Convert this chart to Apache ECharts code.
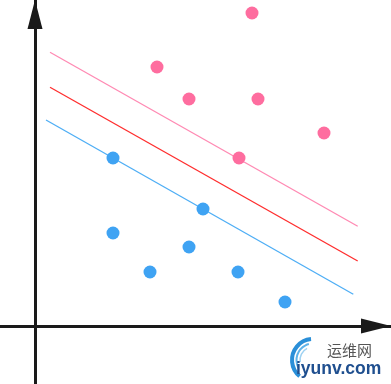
<!DOCTYPE html>
<html><head><meta charset="utf-8">
<script src="https://cdn.jsdelivr.net/npm/echarts@6/dist/echarts.min.js"></script>
<style>html,body{margin:0;padding:0;background:#fff}#c{width:391px;height:384px}</style>
</head><body><div id="c"></div>
<script>
// Class A (pink) and class B (blue) samples
var pinkX = [217, 122, 154, 223, 289, 204];
var pinkY = [313, 259, 227, 227, 193, 168];
var blueX = [78, 168, 78, 154, 115, 203, 250];
var blueY = [168, 117, 93, 79, 54, 54, 24];
// Margin lines (start/end points)
var upperLineX = [15, 322.7], upperLineY = [273.7, 99.7];
var midLineX = [15, 322.7], midLineY = [238.7, 65];
var lowerLineX = [11, 318.3], lowerLineY = [206, 31.7];

function pts(xs, ys){ return xs.map(function(x,i){return [x, ys[i]];}); }

var chart = echarts.init(document.getElementById('c'));
var axisLineCommon = {show:true, onZero:true, lineStyle:{color:'#1a1a1a', width:3}};
chart.setOption({
  animation:false,
  grid:{left:0,right:0,top:0,bottom:0},
  xAxis:{type:'value', min:-35, max:356, splitLine:{show:false}, axisTick:{show:false}, axisLabel:{show:false},
    axisLine:Object.assign({}, axisLineCommon, {symbol:['none','triangle'], symbolSize:[15,30], symbolOffset:[0,-15]})},
  yAxis:{type:'value', min:-58, max:326, splitLine:{show:false}, axisTick:{show:false}, axisLabel:{show:false},
    axisLine:Object.assign({}, axisLineCommon, {symbol:['none','triangle'], symbolSize:[15,29], symbolOffset:[0,-14.5]})},
  series:[
    {type:'line', data:pts(upperLineX, upperLineY), symbol:'none', lineStyle:{color:'#ff8ab3', width:1.3}, z:1},
    {type:'line', data:pts(midLineX, midLineY), symbol:'none', lineStyle:{color:'#ff2d2d', width:1.3}, z:1},
    {type:'line', data:pts(lowerLineX, lowerLineY), symbol:'none', lineStyle:{color:'#4eaef5', width:1.3}, z:1},
    {type:'scatter', data:pts(pinkX, pinkY), symbolSize:13, itemStyle:{color:'#fe6d9f', opacity:1}, z:3},
    {type:'scatter', data:pts(blueX, blueY), symbolSize:13, itemStyle:{color:'#3fa3f3', opacity:1}, z:3}
  ],
  graphic:[
    {type:'arc', shape:{cx:313, cy:360, r:21, startAngle:Math.PI*0.72, endAngle:Math.PI*1.47}, style:{stroke:'#2a8fd8', lineWidth:4, fill:null}},
    {type:'arc', shape:{cx:313, cy:360, r:16.5, startAngle:Math.PI*0.85, endAngle:Math.PI*1.42}, style:{stroke:'#5fb3ea', lineWidth:2, fill:null}},
    {type:'arc', shape:{cx:313, cy:360, r:13, startAngle:Math.PI*0.95, endAngle:Math.PI*1.35}, style:{stroke:'#9fd2f2', lineWidth:1.5, fill:null}},
    {type:'text', left:327, top:343, style:{text:'运维网', font:'15px "Noto Sans CJK SC"', fill:'#555'}},
    {type:'text', left:296, top:360, style:{text:'iyunv.com', font:'bold 17.5px "Liberation Sans", Arial', fill:'#1f4f8f'}}
  ]
});
</script>
</body></html>
